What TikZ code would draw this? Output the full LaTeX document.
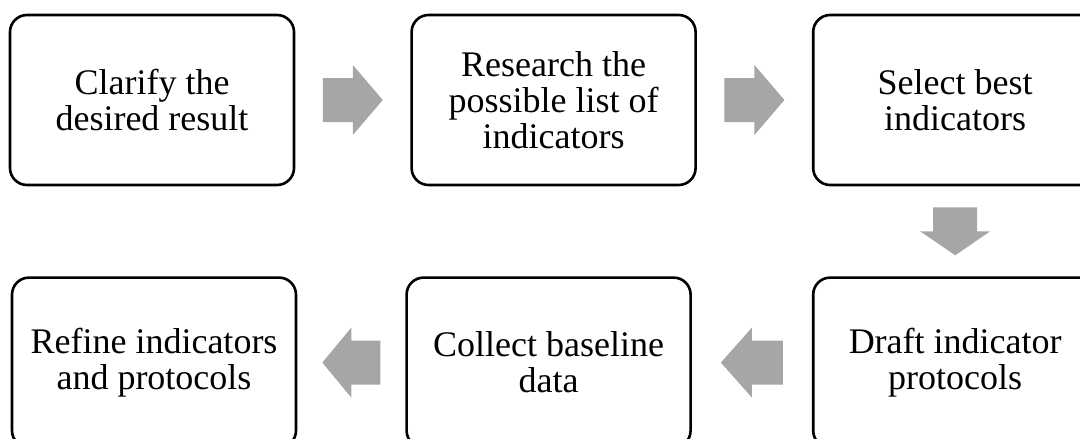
\documentclass[tikz,border=0pt]{standalone}
\usepackage{fontspec}
\setmainfont{Liberation Serif}
\usetikzlibrary{positioning,calc}
\definecolor{arrowgray}{RGB}{166,166,166}
\tikzset{
	fatarrow/.pic={
		\fill[arrowgray] (-#1,-22) -- (0,-22) -- (0,-35) -- (#1,0) -- (0,35) -- (0,22) -- (-#1,22) -- cycle;
	}
}

\begin{document}
\begin{tikzpicture}[x=1pt,y=-1pt]
		\tikzstyle{main}=[rectangle, rounded corners=17pt, line width=2.6pt, draw=black, minimum width=284pt, minimum height=170pt, align=center, font=\fontsize{36}{36}\selectfont]
		\useasboundingbox (0,0) rectangle (1080,439);
		\node[main] (b1) at (152,100) {Clarify the\\desired result};
		\node[main] (b2) [right=115pt of b1] {Research the\\possible list of\\indicators};
		\node[main] (b3) [right=115pt of b2] {Select best\\indicators};
		\node[main] (b6) [below=90pt of b3] {Draft indicator\\protocols};
		\node[main] (b5) [left=120pt of b6] {Collect baseline\\data};
		\node[main] (b4) [left=108pt of b5] {Refine indicators\\and protocols};
		
		\pic at ($(b1.east)!.5!(b2.west)$) {fatarrow=30};
		\pic at ($(b2.east)!.5!(b3.west)$) {fatarrow=30};
		\pic[rotate=-90] at ($(b3.south)!.5!(b6.north)$) {fatarrow=24};
		\pic[rotate=180] at ($(b6.west)!.5!(b5.east)$) {fatarrow=31};
		\pic[rotate=180] at ($(b5.west)!.5!(b4.east)$) {fatarrow=29};
		
\end{tikzpicture}
\end{document}
